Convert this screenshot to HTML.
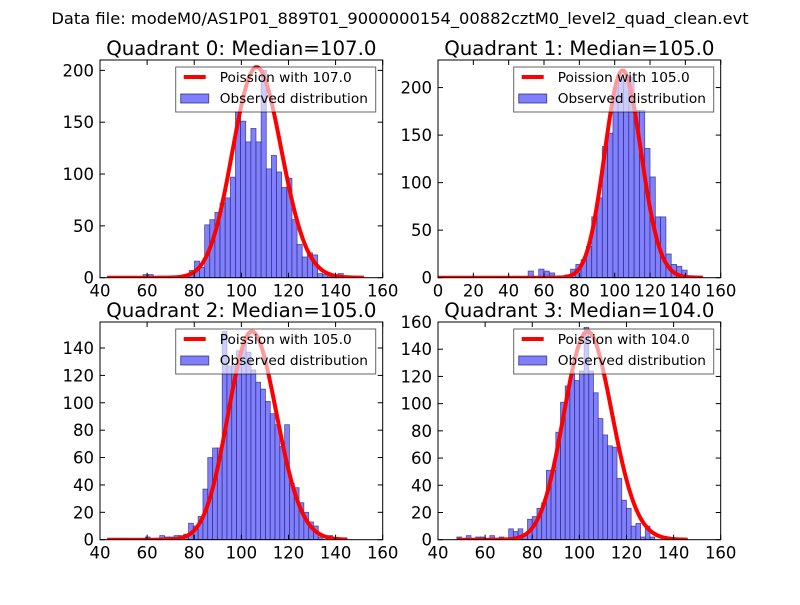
<!DOCTYPE html>
<html><head><meta charset="utf-8"><style>
body{margin:0;background:#fff;}
svg text{font-family:"DejaVu Sans","Liberation Sans",sans-serif;}
</style></head><body>
<svg id="fig" width="800" height="600" xmlns="http://www.w3.org/2000/svg">
<rect width="800" height="600" fill="#fff"/>
<text x="400" y="24" font-size="16.3" text-anchor="middle">Data file: modeM0/AS1P01_889T01_9000000154_00882cztM0_level2_quad_clean.evt</text>
</svg>
<script>
// ---- data ----
const quadNames = ["Quadrant 0: Median=107.0","Quadrant 1: Median=105.0","Quadrant 2: Median=105.0","Quadrant 3: Median=104.0"];
const medians = [107.0, 105.0, 105.0, 104.0];
const curvePeaks = [203, 218, 152, 153];
const curveRanges = [[43,152],[0,150],[43,145],[48,146]];
const xLims = [[40,160],[0,160],[40,160],[40,160]];
const yLims = [210, 229, 159, 160];
const xTicks = [[40,60,80,100,120,140,160],[0,20,40,60,80,100,120,140,160],[40,60,80,100,120,140,160],[40,60,80,100,120,140,160]];
const yTicks = [[0,50,100,150,200],[0,50,100,150,200],[0,20,40,60,80,100,120,140],[0,20,40,60,80,100,120,140,160]];
const binStarts = [43, 0, 42.9, 48];
const binWidths = [2.18, 3, 2.04, 2.0];
const counts0 = [0,0,0,0,0,0,0,3,3,0,0,0,0,0,0,1,7,16,10,51,56,63,72,77,97,160,151,131,144,131,200,105,118,102,87,96,56,32,20,24,22,4,3,1,1,4,0,0,0,0];
const counts1 = [0,0,0,0,0,0,0,0,0,1,0,0,1,0,0,0,0,7,0,9,7,5,0,0,3,9,14,19,33,64,84,138,152,200,211,205,211,176,176,136,106,64,64,25,14,12,8,2,0,0];
const counts2 = [0,1,1,0,0,0,0,0,2,0,0,3,2,2,3,3,4,12,10,17,37,60,67,67,152,127,127,138,144,137,124,115,110,101,92,84,68,84,41,38,27,20,13,10,2,0,3,0,0,0];
const counts3 = [2,0,3,0,2,2,0,3,0,2,0,8,6,8,4,15,17,23,27,51,51,79,101,113,123,117,124,156,124,108,89,77,69,68,45,29,23,10,12,2,10,2,0,0,2,0,0,0,0];
const allCounts = [counts0, counts1, counts2, counts3];
const legendLabels = ["Poission with 107.0","Poission with 105.0","Poission with 105.0","Poission with 104.0"];

const NS = "http://www.w3.org/2000/svg";
const svg = document.getElementById('fig');
function mk(tag, attrs, parent){const e=document.createElementNS(NS,tag);for(const k in attrs)e.setAttribute(k,attrs[k]);(parent||svg).appendChild(e);return e;}
const boxes = [[100,60,382.7,277.7],[438,60,720.7,277.7],[100,322,382.7,539.7],[438,322,720.7,539.7]];
function logFact(n){let s=0;for(let i=2;i<=n;i++)s+=Math.log(i);return s;}
function pois(k,mu){return Math.exp(k*Math.log(mu)-mu-logFact(k));}

for(let q=0;q<4;q++){
  const [L,T,R,B]=boxes[q];
  const g=mk('g',{});
  
  
  const xs=v=>L+(v-xLims[q][0])/(xLims[q][1]-xLims[q][0])*(R-L);
  const ys=v=>B-v/yLims[q]*(B-T);
  const clip=mk('clipPath',{id:'c'+q},g);
  mk('rect',{x:L,y:T,width:R-L,height:B-T},clip);
  const inner=mk('g',{'clip-path':'url(#c'+q+')'},g);
  const cs=allCounts[q];
  for(let i=0;i<cs.length;i++){
    if(cs[i]<=0)continue;
    const x0=xs(binStarts[q]+i*binWidths[q]), x1=xs(binStarts[q]+(i+1)*binWidths[q]);
    const r=mk('rect',{x:x0,y:ys(cs[i]),width:x1-x0,height:B-ys(cs[i]),fill:'#8080ff',stroke:'#20206a','stroke-opacity':'0.7','stroke-width':'0.8'},inner);
    
    
  }
  const mu=medians[q], mode=Math.floor(mu), pk=pois(mode,mu);
  let d='';
  for(let k=curveRanges[q][0];k<=curveRanges[q][1];k++){
    const v=curvePeaks[q]*pois(k,mu)/pk;
    d+=(d?'L':'M')+xs(k).toFixed(2)+','+ys(v).toFixed(2);
  }
  const p=mk('path',{d:d,fill:'none',stroke:'#ff0000','stroke-width':'4','stroke-linejoin':'round'},inner);
  
  
  mk('rect',{x:L,y:T,width:R-L,height:B-T,fill:'none',stroke:'#000','stroke-width':'1'},g);
  xTicks[q].forEach(t=>{
    const x=xs(t);
    mk('line',{x1:x,y1:B,x2:x,y2:B-5,stroke:'#000'},g);
    mk('line',{x1:x,y1:T,x2:x,y2:T+5,stroke:'#000'},g);
    const tx=mk('text',{x:x,y:B+19,'font-size':'16.5','text-anchor':'middle'},g);
    tx.textContent=t;
    
    
  });
  yTicks[q].forEach(t=>{
    const y=ys(t);
    mk('line',{x1:L,y1:y,x2:L+5,y2:y,stroke:'#000'},g);
    mk('line',{x1:R,y1:y,x2:R-5,y2:y,stroke:'#000'},g);
    const tx=mk('text',{x:L-6,y:y+6,'font-size':'16.5','text-anchor':'end'},g);
    tx.textContent=t;
    
    
  });
  const tt=mk('text',{x:(L+R)/2,y:T-5,'font-size':'19.8','text-anchor':'middle'},g);
  tt.textContent=quadNames[q];
  
  
  const lg=mk('g',{},g);
  
  
  const lx=R-207, ly=T+7;
  mk('rect',{x:lx,y:ly,width:200,height:45,fill:'#fff','fill-opacity':'0.6',stroke:'#000','stroke-opacity':'0.6'},lg);
  mk('line',{x1:lx+8,y1:ly+10,x2:lx+30,y2:ly+10,stroke:'#ff0000','stroke-width':'4'},lg);
  const t1=mk('text',{x:lx+44,y:ly+15,'font-size':'13.7'},lg);
  t1.textContent=legendLabels[q];
  
  
  mk('rect',{x:lx+5,y:ly+27,width:28,height:9,fill:'#8080ff',stroke:'#20206a','stroke-opacity':'0.7'},lg);
  const t2=mk('text',{x:lx+44,y:ly+36,'font-size':'13.7'},lg);
  t2.textContent='Observed distribution';
  
  
}
</script>
</body></html>
